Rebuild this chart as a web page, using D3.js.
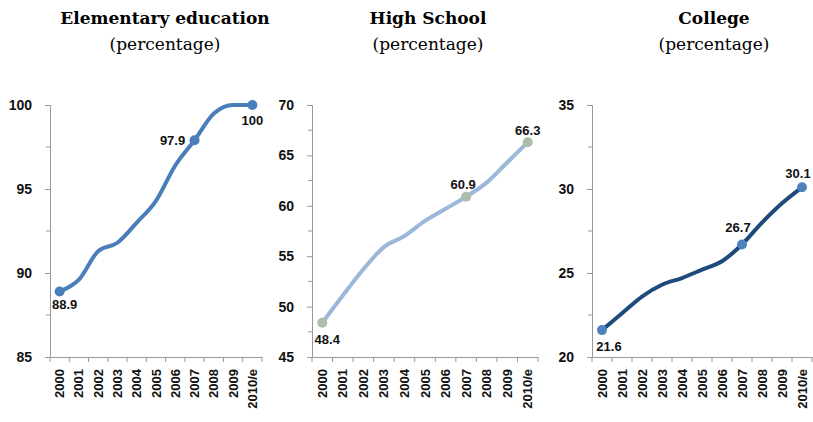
<!DOCTYPE html>
<html>
<head>
<meta charset="utf-8">
<script src="https://cdn.jsdelivr.net/npm/d3@7"></script>
<style>
  body { margin: 0; background: #fff; }
  svg { display: block; }
</style>
</head>
<body>
<script>
const width = 813;
const height = 422;

const years = ["2000", "2001", "2002", "2003", "2004", "2005", "2006", "2007", "2008", "2009", "2010/e"];

const elementary = [88.9, 89.6, 91.3, 91.8, 93.0, 94.3, 96.4, 97.9, 99.5, 100, 100];
const highSchool = [48.4, 51.1, 53.7, 55.9, 57.0, 58.5, 59.7, 60.9, 62.3, 64.3, 66.3];
const college = [21.6, 22.6, 23.6, 24.3, 24.7, 25.2, 25.7, 26.7, 28.0, 29.15, 30.1];

const titles = ["Elementary education", "High School", "College"];
const yDomains = [[85, 100], [45, 70], [20, 35]];
const yTicks = [[85, 90, 95, 100], [45, 50, 55, 60, 65, 70], [20, 25, 30, 35]];
// indexes of the points that get a dot and a label
const labelled = [0, 7, 10];

const svg = d3.select("body").append("svg")
    .attr("width", width)
    .attr("height", height);

const panels = [
    {values: elementary, left: 50, right: 262, line: "#4a7ebb", dot: "#4a7ebb", titleX: 165,
     labelPos: [[5, 18], [-22, 5], [0, 20]]},
    {values: highSchool, left: 312, right: 538, line: "#9bb7da", dot: "#a9bfa8", titleX: 428,
     labelPos: [[5, 21], [-3, -8], [0, -7]]},
    {values: college, left: 592, right: 812, line: "#1f4a7c", dot: "#4f81bd", titleX: 714,
     labelPos: [[7, 21], [-4, -12], [-4, -9]]}
];

const plotTop = 105, plotBottom = 357;

panels.forEach(function(p, i) {
    const g = svg.append("g");

    g.append("text")
        .attr("x", p.titleX).attr("y", 24)
        .attr("text-anchor", "middle")
        .style("font-family", "'DejaVu Serif', serif")
        .style("font-weight", "bold")
        .style("font-size", "17px")
        .text(titles[i]);
    g.append("text")
        .attr("x", p.titleX).attr("y", 50)
        .attr("text-anchor", "middle")
        .style("font-family", "'DejaVu Serif', serif")
        .style("font-size", "17px")
        .text("(percentage)");

    const x = d3.scaleBand().domain(years).range([p.left, p.right]);
    const y = d3.scaleLinear().domain(yDomains[i]).range([plotBottom, plotTop]);

    // minor ticks at half steps
    const d = yDomains[i];
    const minor = d3.range(d[0] + 2.5, d[1], 5);
    g.selectAll(".minor").data(minor).enter().append("line")
        .attr("x1", p.left - 4).attr("x2", p.left)
        .attr("y1", v => y(v)).attr("y2", v => y(v))
        .attr("stroke", "#999");

    const yAxis = g.append("g")
        .attr("transform", `translate(${p.left},0)`)
        .call(d3.axisLeft(y).tickValues(yTicks[i]).tickSize(5).tickPadding(13));
    yAxis.select(".domain").attr("stroke", "#999");
    yAxis.selectAll(".tick line").attr("stroke", "#999");
    yAxis.selectAll("text")
        .style("font-family", "'Liberation Sans', Arial, sans-serif")
        .style("font-weight", "bold")
        .style("font-size", "14px")
        .attr("fill", "#111");

    const xAxis = g.append("g")
        .attr("transform", `translate(0,${plotBottom})`)
        .call(d3.axisBottom(x).tickSize(0));
    xAxis.select(".domain").attr("stroke", "#999");
    xAxis.selectAll(".tick line").remove();
    // tick marks between categories
    g.selectAll(".xt").data(d3.range(years.length + 1)).enter().append("line")
        .attr("x1", k => p.left + k * x.step()).attr("x2", k => p.left + k * x.step())
        .attr("y1", plotBottom).attr("y2", plotBottom + 5)
        .attr("stroke", "#999");
    xAxis.selectAll("text")
        .attr("transform", "rotate(-90)")
        .attr("x", -12).attr("y", 0).attr("dy", "0.35em")
        .attr("text-anchor", "end")
        .style("font-family", "'Liberation Sans', Arial, sans-serif")
        .style("font-weight", "bold")
        .style("font-size", "13px")
        .attr("fill", "#111");

    const line = d3.line()
        .x((v, k) => x(years[k]) + x.bandwidth() / 2)
        .y(v => y(v))
        .curve(d3.curveMonotoneX);

    g.append("path")
        .datum(p.values)
        .attr("d", line)
        .attr("fill", "none")
        .attr("stroke", p.line)
        .attr("stroke-width", 4)
        .attr("stroke-linejoin", "round");

    g.selectAll(".dot").data(labelled).enter().append("circle")
        .attr("cx", k => x(years[k]) + x.bandwidth() / 2)
        .attr("cy", k => y(p.values[k]))
        .attr("r", 5)
        .attr("fill", p.dot);

    g.selectAll(".lbl").data(labelled).enter().append("text")
        .attr("x", (k, j) => x(years[k]) + x.bandwidth() / 2 + p.labelPos[j][0])
        .attr("y", (k, j) => y(p.values[k]) + p.labelPos[j][1])
        .attr("text-anchor", "middle")
        .style("font-family", "'Liberation Sans', Arial, sans-serif")
        .style("font-weight", "bold")
        .style("font-size", "13px")
        .attr("fill", "#111")
        .text(k => p.values[k]);
});
</script>
</body>
</html>
